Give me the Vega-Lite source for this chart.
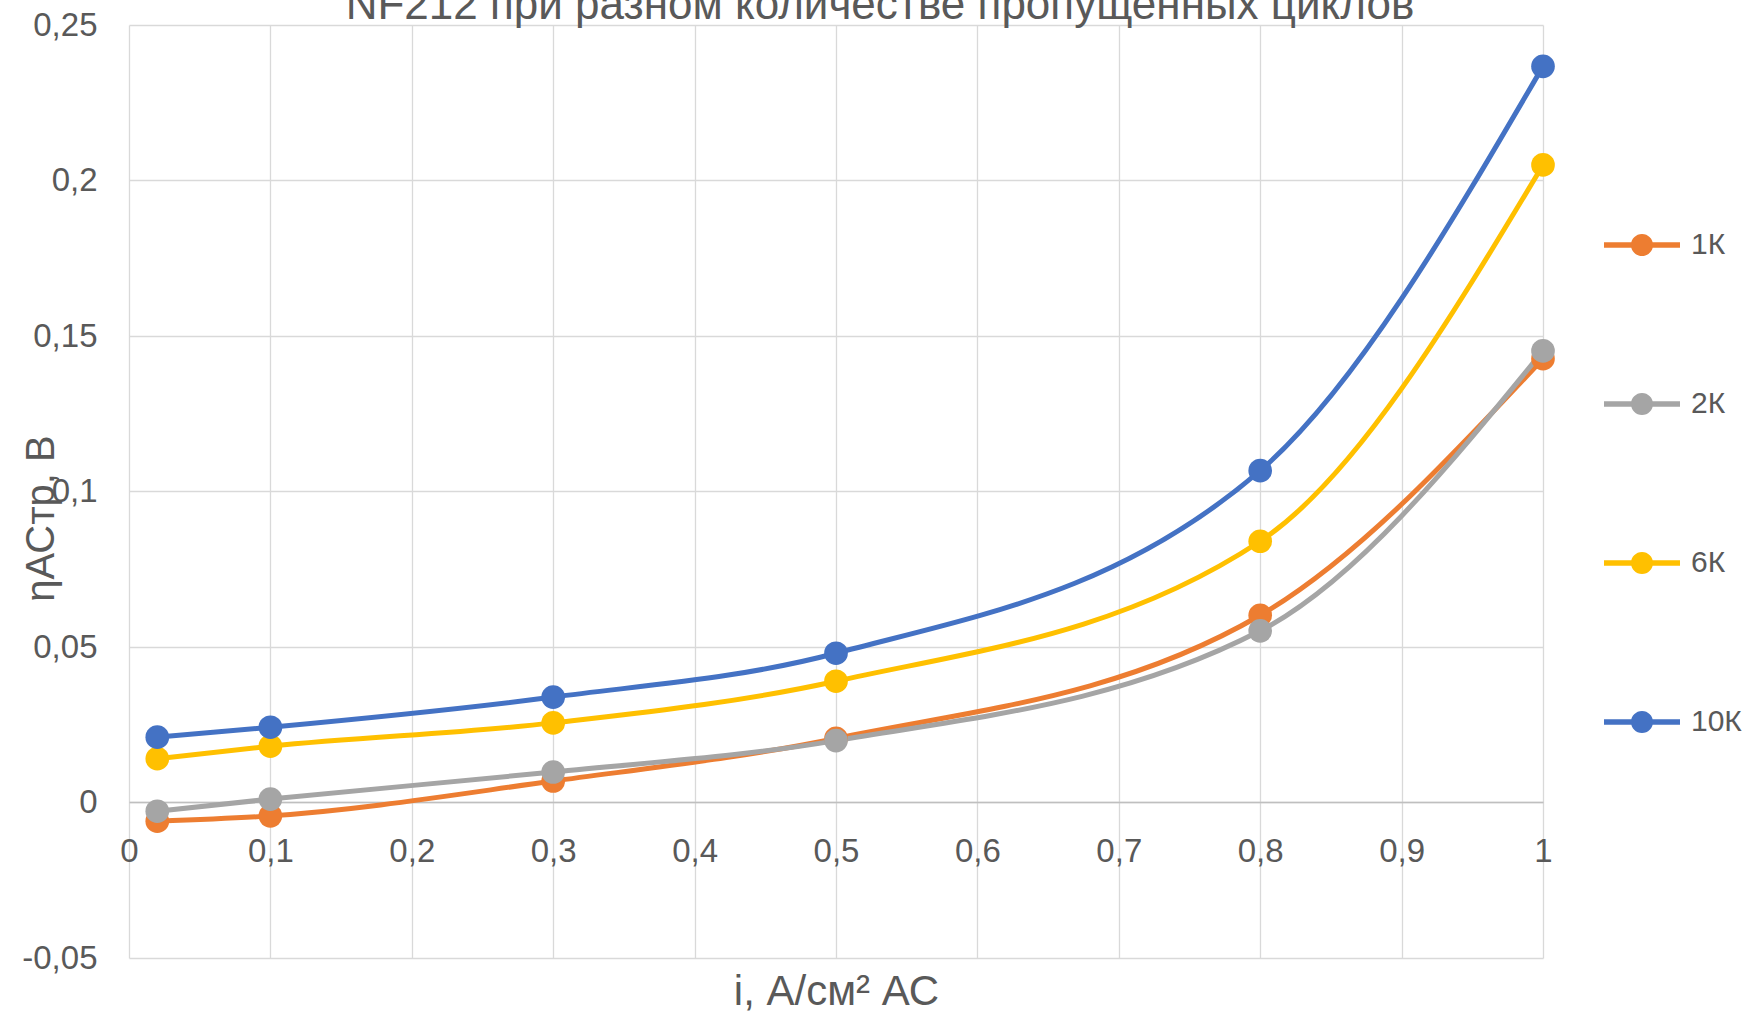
{
  "$schema": "https://vega.github.io/schema/vega-lite/v6.json",
  "autosize": {"type": "none"},
  "width": 1414,
  "height": 933,
  "padding": {"left": 129, "top": 25, "right": 213, "bottom": 62},
  "background": "white",
  "title": {
    "text": "NF212 при разном количестве пропущенных циклов",
    "font": "Liberation Sans",
    "fontSize": 44,
    "fontWeight": "normal",
    "color": "#595959",
    "anchor": "middle",
    "frame": "group",
    "baseline": "alphabetic",
    "offset": -54,
    "dx": 44
  },
  "config": {
    "font": "Liberation Sans",
    "view": {"stroke": null},
    "axis": {
      "gridColor": "#D9D9D9",
      "gridWidth": 1.3,
      "labelColor": "#595959",
      "titleColor": "#595959",
      "labelFont": "Liberation Sans",
      "titleFont": "Liberation Sans",
      "labelFontSize": 33,
      "titleFontWeight": "normal",
      "ticks": false
    }
  },
  "data": {
    "values": [
      {"series": "1К", "i": 0.02, "eta": -0.006},
      {"series": "1К", "i": 0.1, "eta": -0.0043},
      {"series": "1К", "i": 0.3, "eta": 0.0069},
      {"series": "1К", "i": 0.5, "eta": 0.0206},
      {"series": "1К", "i": 0.8, "eta": 0.0602},
      {"series": "1К", "i": 1.0, "eta": 0.1427},
      {"series": "2К", "i": 0.02, "eta": -0.0028},
      {"series": "2К", "i": 0.1, "eta": 0.0011},
      {"series": "2К", "i": 0.3, "eta": 0.0098},
      {"series": "2К", "i": 0.5, "eta": 0.0199},
      {"series": "2К", "i": 0.8, "eta": 0.0552},
      {"series": "2К", "i": 1.0, "eta": 0.1452},
      {"series": "6К", "i": 0.02, "eta": 0.0141},
      {"series": "6К", "i": 0.1, "eta": 0.0181},
      {"series": "6К", "i": 0.3, "eta": 0.0256},
      {"series": "6К", "i": 0.5, "eta": 0.039},
      {"series": "6К", "i": 0.8, "eta": 0.084},
      {"series": "6К", "i": 1.0, "eta": 0.205},
      {"series": "10К", "i": 0.02, "eta": 0.021},
      {"series": "10К", "i": 0.1, "eta": 0.0242},
      {"series": "10К", "i": 0.3, "eta": 0.0339},
      {"series": "10К", "i": 0.5, "eta": 0.048},
      {"series": "10К", "i": 0.8, "eta": 0.1067},
      {"series": "10К", "i": 1.0, "eta": 0.2367}
    ]
  },
  "encoding": {
    "x": {
      "field": "i",
      "type": "quantitative",
      "scale": {"domain": [0, 1], "nice": false, "zero": false},
      "axis": {
        "values": [0, 0.1, 0.2, 0.3, 0.4, 0.5, 0.6, 0.7, 0.8, 0.9, 1],
        "labelExpr": "replace(format(datum.value, '~g'), '.', ',')",
        "offset": -156,
        "domain": true,
        "domainColor": "#BFBFBF",
        "domainWidth": 1.5,
        "labelPadding": 33,
        "labelFlush": false,
        "title": "i, А/см² АС",
        "titleFontSize": 42,
        "titleY": 202,
        "titleBaseline": "alphabetic"
      }
    },
    "y": {
      "field": "eta",
      "type": "quantitative",
      "scale": {"domain": [-0.05, 0.25], "nice": false, "zero": false},
      "axis": {
        "values": [-0.05, 0, 0.05, 0.1, 0.15, 0.2, 0.25],
        "labelExpr": "replace(replace(format(datum.value, '~g'), '.', ','), '−', '-')",
        "domain": false,
        "labelPadding": 32,
        "title": "ηАСтр, В",
        "titleFontSize": 40,
        "titleAngle": -90,
        "titleX": -88,
        "titleY": 493,
        "titleAlign": "center",
        "titleBaseline": "middle"
      }
    },
    "color": {
      "field": "series",
      "type": "nominal",
      "scale": {
        "domain": ["1К", "2К", "6К", "10К"],
        "range": ["#ED7D31", "#A5A5A5", "#FFC000", "#4472C4"]
      },
      "legend": {
        "title": null,
        "orient": "none",
        "legendX": 1475,
        "legendY": 182,
        "padding": 0,
        "rowPadding": 106,
        "labelFontSize": 30,
        "labelColor": "#595959",
        "labelFont": "Liberation Sans",
        "labelOffset": 11,
        "symbolSize": 5776,
        "symbolType": "M-1,-0.07L-0.25,-0.07L-0.25,0.07L-1,0.07Z M0.25,-0.07L1,-0.07L1,0.07L0.25,0.07Z M0.29,0A0.29,0.29 0 1,1 -0.29,0A0.29,0.29 0 1,1 0.29,0Z",
        "symbolStrokeWidth": 0,
        "encode": {
          "symbols": {
            "update": {
              "fill": {"scale": "color", "field": "value"},
              "fillOpacity": {"value": 1},
              "opacity": {"value": 1}
            }
          }
        }
      }
    }
  },
  "layer": [
    {
      "mark": {"type": "line", "interpolate": "monotone", "strokeWidth": 5},
      "encoding": {"detail": {"field": "series"}}
    },
    {
      "mark": {"type": "point", "filled": true, "opacity": 1, "size": 560, "shape": "circle"}
    }
  ]
}
